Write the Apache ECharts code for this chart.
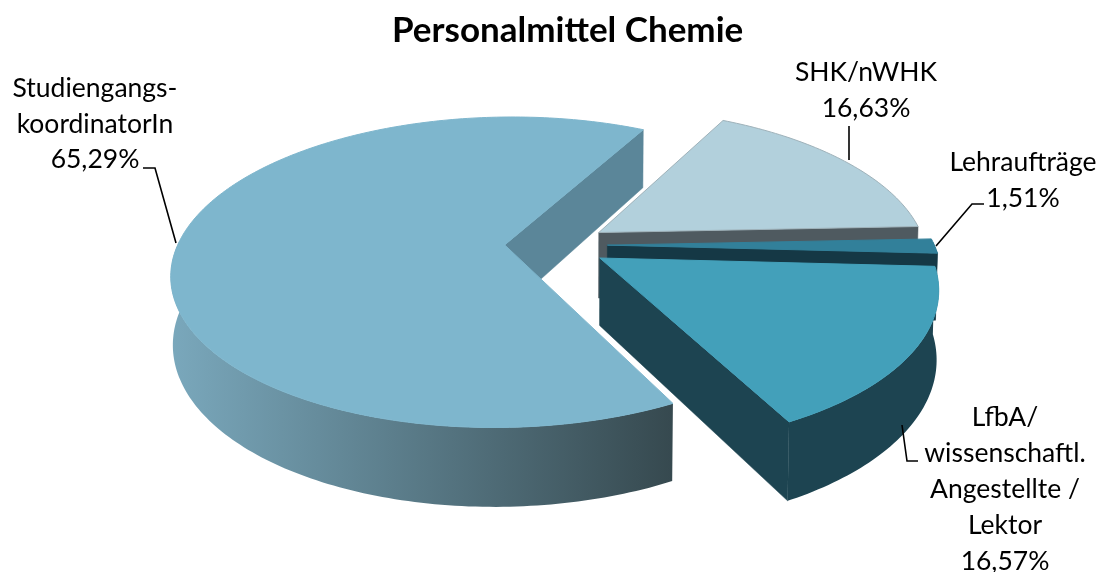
<!DOCTYPE html>
<html><head><meta charset="utf-8">
<style>html,body{margin:0;padding:0;background:#fff}#c{width:1102px;height:572px}</style>
<script src="https://cdn.jsdelivr.net/npm/echarts@6/dist/echarts.min.js"></script>
</head><body><div id="c"></div>
<script>
var categories = ['Studiengangs-\nkoordinatorIn', 'SHK/nWHK', 'Lehraufträge', 'LfbA/\nwissenschaftl.\nAngestellte /\nLektor'];
var values = [65.29, 16.63, 1.51, 16.57];
var valueLabels = ['65,29%', '16,63%', '1,51%', '16,57%'];

// slice styling
var topColors = ['#7eb6cd', '#b2d0dc', '#32809a', '#43a0ba'];
var edgeColors = ['#5b8699', '#4f5a60', '#153845', '#1d4451'];
var rimStops = [['#7aa8bc', '#36494f'], ['#4f5a60', '#4f5a60'], ['#153845', '#153845'], ['#1d4451', '#1d4451']];
var topStroke = ['#7eb6cd', '#9fb2ba', '#32809a', '#43a0ba'];

// label layout
var labelPos = [[95, 124], [866, 90], [1023, 180], [1005, 489]];
var labelLH = [35.5, 36, 36, 36];
var leaders = [
  [[143, 168], [155, 168], [176, 243]],
  [[849, 126], [849, 160]],
  [[936, 246], [972, 204], [984, 204]],
  [[902, 425], [907, 461], [918, 461]]
];

// view model of the tilted disc
var CX = 556, CY = 245, TILT = 27.4 * Math.PI / 180, DIST = 5.04, SCALE = 1648;
var HEIGHT = 0.23, EXPLODE = 0.157, START_DEG = -62.7, PINCH = 0.25;
var sinT = Math.sin(TILT), cosT = Math.cos(TILT);

function project(x, y, z) {
  var yc = y * sinT + z * cosT;
  var zc = DIST + y * cosT - z * sinT * PINCH;
  return [CX + SCALE * x / zc, CY - SCALE * yc / zc];
}
var total = values.reduce(function (a, b) { return a + b; }, 0);

function sliceAngles(i) {
  var s = START_DEG;
  for (var k = 0; k < i; k++) s -= values[k] / total * 360;
  return [s, s - values[i] / total * 360];
}

function renderSlice(params, api) {
  var i = params.dataIndex;
  var ang = sliceAngles(i), a0 = ang[0], a1 = ang[1];
  var mid = (a0 + a1) / 2 * Math.PI / 180;
  var ox = EXPLODE * Math.cos(mid), oy = EXPLODE * Math.sin(mid);
  var children = [];
  function rim(deg) {
    var r = deg * Math.PI / 180;
    return [ox + Math.cos(r), oy + Math.sin(r)];
  }
  function wall(deg, isStart) {
    var r = deg * Math.PI / 180, p = rim(deg);
    var n = isStart ? [-Math.sin(r), Math.cos(r)] : [Math.sin(r), -Math.cos(r)];
    var cam = [-p[0], -DIST * cosT - p[1]];
    if (n[0] * cam[0] + n[1] * cam[1] <= 0) return;
    children.push({
      type: 'polygon',
      shape: { points: [project(ox, oy, 0), project(p[0], p[1], 0), project(p[0], p[1], -HEIGHT), project(ox, oy, -HEIGHT)] },
      style: { fill: edgeColors[i], stroke: edgeColors[i], lineWidth: 0.5 }, silent: true
    });
  }
  wall(a0, true);
  wall(a1, false);
  // outer rim
  var upper = [], lower = [], p;
  var degs = [];
  for (var d = a0; d > a1; d -= 1) degs.push(d);
  degs.push(a1);
  degs.forEach(function (dg) {
    if (Math.sin(dg * Math.PI / 180) <= 0.03) {
      p = rim(dg);
      upper.push(project(p[0], p[1], 0));
      lower.unshift(project(p[0], p[1], -HEIGHT));
    }
  });
  if (upper.length > 1) {
    children.push({
      type: 'polygon',
      shape: { points: upper.concat(lower) },
      style: {
        fill: new echarts.graphic.LinearGradient(0, 0, 1, 0, [
          { offset: 0, color: rimStops[i][0] }, { offset: 1, color: rimStops[i][1] }
        ])
      },
      silent: true
    });
  }
  // top face
  var pts = [project(ox, oy, 0)];
  degs.forEach(function (dg) { p = rim(dg); pts.push(project(p[0], p[1], 0)); });
  children.push({
    type: 'polygon', shape: { points: pts },
    style: { fill: topColors[i], stroke: topStroke[i], lineWidth: 1 }, silent: true
  });
  // leader and label
  children.push({
    type: 'polyline', shape: { points: leaders[i] },
    style: { stroke: '#000', lineWidth: 1.6, fill: null }, silent: true, z2: 50
  });
  children.push({
    type: 'text', silent: true, z2: 50,
    style: {
      text: categories[i] + '\n' + valueLabels[i],
      x: labelPos[i][0], y: labelPos[i][1], align: 'center', verticalAlign: 'middle',
      font: '26.5px Lato', lineHeight: labelLH[i], fill: '#000'
    }
  });
  return { type: 'group', children: children };
}

var chart = echarts.init(document.getElementById('c'), null, { renderer: 'canvas' });
chart.setOption({
  animation: false,
  backgroundColor: '#fff',
  title: {
    text: 'Personalmittel Chemie', left: 387, top: 8, itemGap: 0,
    textStyle: { fontFamily: 'Lato', fontWeight: 'bold', fontSize: 35, color: '#000' }
  },
  series: [{
    type: 'custom', coordinateSystem: 'none', silent: true,
    renderItem: renderSlice,
    data: values.map(function (v, k) { return { name: categories[k], value: v }; })
  }]
});
</script></body></html>
